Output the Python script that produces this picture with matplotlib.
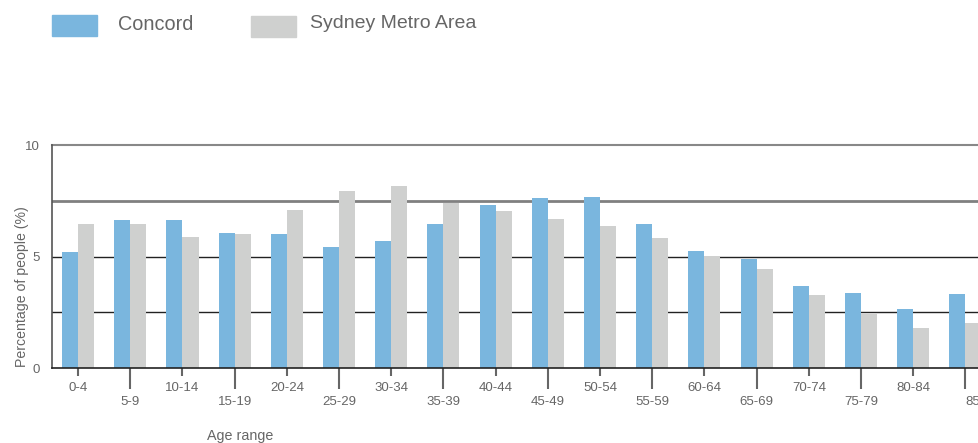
import matplotlib
matplotlib.use("Agg")
import matplotlib.pyplot as plt
import numpy as np

categories = ["0-4", "5-9", "10-14", "15-19", "20-24", "25-29", "30-34", "35-39",
              "40-44", "45-49", "50-54", "55-59", "60-64", "65-69", "70-74",
              "75-79", "80-84", "85+"]
concord = [5.22, 6.62, 6.62, 6.07, 6.02, 5.44, 5.71, 6.47, 7.32, 7.64, 7.68,
           6.47, 5.26, 4.90, 3.69, 3.38, 2.66, 3.33]
sydney = [6.47, 6.47, 5.86, 6.02, 7.10, 7.95, 8.17, 7.41, 7.05, 6.69, 6.38,
          5.84, 5.02, 4.45, 3.29, 2.44, 1.81, 2.03]

plt.rcParams['font.family'] = ['Liberation Sans', 'DejaVu Sans']
TXT = '#666666'
BLUE = '#7AB6DE'
GREY = '#CFD0CF'

fig = plt.figure(figsize=(9.79, 4.43), dpi=100)
W, H = 979, 443
ax = fig.add_axes([52 / W, (H - 368.3) / H, 1 - 52 / W, (368.3 - 145) / H])

x = np.arange(len(categories))
bw = 0.307
ax.bar(x - bw / 2, concord, width=bw, color=BLUE, zorder=3)
ax.bar(x + bw / 2, sydney, width=bw, color=GREY, zorder=3)

ax.set_xlim(-0.5, 17.26)
ax.set_ylim(0, 10)

ax.axhline(2.5, color='#222222', lw=1.0, zorder=1)
ax.axhline(5, color='#222222', lw=1.0, zorder=1)
ax.axhline(7.5, color='#808080', lw=2.0, zorder=1)
ax.axhline(10, color='#888888', lw=1.5, zorder=1, clip_on=False)

for s in ['top', 'right']:
    ax.spines[s].set_visible(False)
ax.spines['left'].set_color('#555555')
ax.spines['left'].set_linewidth(1.2)
ax.spines['bottom'].set_color('#222222')
ax.spines['bottom'].set_linewidth(1.2)
ax.spines['bottom'].set_zorder(4)

ax.set_yticks([0, 5, 10])
ax.set_yticklabels(['0', '5', '10'])
ax.tick_params(axis='y', length=0, pad=9, labelsize=9.5, labelcolor=TXT)

even = x[::2]
odd = x[1::2]
ax.set_xticks(even)
ax.set_xticklabels([categories[i] for i in even])
ax.set_xticks(odd, minor=True)
minor_labels = ax.set_xticklabels([categories[i] for i in odd], minor=True)
minor_labels[-1].set_horizontalalignment('left')
ax.tick_params(axis='x', which='major', length=6, width=1.5, color='#666666',
               pad=4, labelsize=9.5, labelcolor=TXT)
ax.tick_params(axis='x', which='minor', length=15, width=1.5, color='#666666',
               pad=5, labelsize=9.5, labelcolor=TXT)

fig.text(22 / W, 1 - 287 / H, 'Percentage of people (%)', rotation=90,
         ha='center', va='center', fontsize=10.2, color=TXT)
fig.text(240 / W, 1 - 436 / H, 'Age range', ha='center', va='center',
         fontsize=10.3, color=TXT)

# legend
from matplotlib.patches import Rectangle
fig.patches.append(Rectangle((52 / W, 1 - 36 / H), 45 / W, 21 / H,
                             transform=fig.transFigure, color=BLUE))
fig.patches.append(Rectangle((251 / W, 1 - 37 / H), 45 / W, 21 / H,
                             transform=fig.transFigure, color=GREY))
fig.text(118 / W, 1 - 24 / H, 'Concord', ha='left', va='center',
         fontsize=14.3, color=TXT)
fig.text(310 / W, 1 - 24 / H, 'Sydney Metro Area', ha='left', va='center',
         fontsize=14, color=TXT)

fig.savefig('out.png', dpi=100)
